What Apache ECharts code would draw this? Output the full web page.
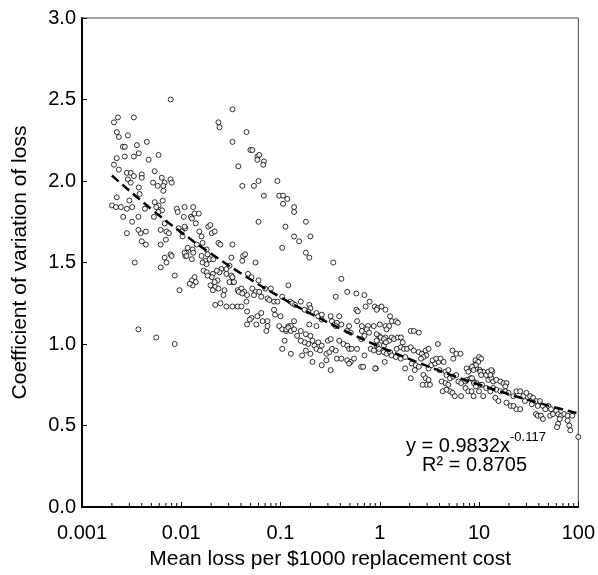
<!DOCTYPE html>
<html><head><meta charset="utf-8">
<script src="https://cdn.jsdelivr.net/npm/echarts@6/dist/echarts.min.js"></script>
<style>html,body{margin:0;padding:0;background:#fff}#c{width:598px;height:575px}</style>
</head><body><div id="c"></div>
<script>
// x tick labels (log axis) and y range
const xTickLabels = ['0.001', '0.01', '0.1', '1', '10', '100'];
const minorMultipliers = [2, 3, 4, 5, 6, 7, 8, 9];

// Mean loss per $1000 replacement cost (x) and coefficient of variation (y)
const meanLoss = [
0.00783,0.0021,0.0023,0.00333,0.00224,0.00235,0.0029,0.00258,0.0027,0.00357,0.0045,0.00224,0.0027,0.00333,0.00373,0.0059,0.0047,0.0021,0.00235,0.00283,
0.0031,0.00333,0.0029,0.004,0.004,0.0054,0.00636,0.0078,0.008,0.0068,0.0066,0.0052,0.0058,0.0031,0.00373,0.0038,0.0066,0.00224,0.003,0.002,
0.0022,0.00246,0.00283,0.0032,0.0054,0.0059,0.0056,0.0064,0.0065,0.0059,0.0043,0.009,0.0092,0.0108,0.0026,0.0037,0.0053,0.0032,0.0068,0.0106,
0.00283,0.0039,0.0037,0.0044,0.0062,0.0071,0.0075,0.007,0.0094,0.0101,0.0103,0.011,0.004,0.0044,0.0062,0.0116,0.011,0.0113,0.0068,0.0078,
0.008,0.0071,0.0062,0.0034,0.0086,0.0096,0.0037,0.0056,0.0086,
0.0328,0.0237,0.0243,0.0454,0.0328,0.0497,0.052,0.0585,0.061,0.0585,0.068,0.067,0.0376,0.060,0.093,0.0412,0.054,0.068,0.097,0.106,
0.117,0.106,0.0132,0.0125,0.0136,0.015,0.0128,0.014,0.0108,0.0187,0.0196,0.060,0.112,
0.0203,0.0217,0.0152,0.016,0.0164,0.0237,0.0248,0.0328,0.0143,0.013,0.0108,0.0113,0.0132,0.0128,0.018,0.0184,0.016,0.0175,0.0164,0.018,
0.0193,0.021,0.032,0.042,0.044,0.0412,0.056,0.104,0.0254,0.0243,0.0228,0.0208,0.0203,0.0232,0.0217,0.0285,0.0306,0.0285,0.0168,0.018,
0.0184,0.032,0.0328,0.0328,0.0306,0.034,0.047,0.051,0.060,0.0136,0.0128,0.014,0.013,0.0122,0.0197,0.022,0.0237,0.0208,0.0273,0.0266,
0.037,0.0404,0.038,0.043,0.0412,0.046,0.052,0.056,0.054,0.061,0.064,0.070,0.080,0.074,0.077,0.086,0.093,0.086,0.088,0.022,
0.0248,0.0285,0.0328,0.037,0.0404,0.0454,0.046,0.051,0.0585,0.064,0.066,0.074,0.074,0.072,0.057,0.049,0.046,0.097,0.104,0.114,0.12,
0.137,0.137,0.18,0.137,0.154,0.20,0.18,0.195,0.34,0.41,0.12,0.36,0.47,0.58,0.70,0.104,0.125,0.132,0.14,0.16,
0.195,0.20,0.19,0.175,0.23,0.24,0.26,0.26,0.32,0.33,0.35,0.39,0.37,0.58,0.60,0.72,0.79,0.89,0.95,1.04,
1.14,0.59,0.66,0.76,0.87,1.0,1.14,0.10,0.127,0.137,0.195,0.23,0.36,0.41,0.49,
0.47,0.51,0.74,0.78,0.66,0.70,0.65,0.98,1.04,1.1,0.93,1.14,0.114,0.12,0.127,0.137,0.11,0.104,0.127,0.147,
0.16,0.18,0.20,0.21,0.19,0.175,0.16,0.22,0.24,0.26,0.23,0.25,0.29,0.31,0.33,0.36,0.30,0.32,0.39,0.43,
0.47,0.49,0.52,0.59,0.18,0.20,0.165,0.37,0.41,0.47,0.51,0.55,0.49,0.21,0.26,0.32,0.65,0.68,0.91,0.70,
0.81,0.98,0.29,
0.93,1.27,1.32,1.45,1.52,1.24,1.17,2.05,2.2,2.47,0.93,1.02,1.1,1.24,1.15,1.32,1.39,1.52,1.63,1.7,
0.93,0.98,0.87,1.1,1.17,1.27,1.32,1.48,1.63,1.75,1.88,2.05,2.2,1.45,1.63,1.8,2.47,2.65,2.9,3.1,
2.95,2.75,2.6,0.9,1.12,1.8,2.1,2.3,2.47,2.25,2.05,2.75,2.9,3.1,2.95,3.2,2.7,3.1,3.3,3.6,
3.9,3.4,3.7,4.1,4.4,3.85,5.4,5.9,6.5,5.5,4.0,4.6,4.9,4.7,5.1,5.5,5.9,4.2,4.6,4.9,
5.1,4.3,4.7,5.4,5.7,6.6,6.2,6.6,7.3,7.5,8.2,8.8,9.4,10.2,7.5,8.4,9.2,9.4,10.2,11,
7.3,7.8,8.4,8.8,10,11,9.2,10,10.5,
9.8,9.3,8.5,8.8,10.3,7.8,10.5,8.5,8.9,9.3,11.8,12.4,13.3,13.6,13.9,14.9,16.4,17.6,18.9,18.4,
10.7,11.8,13,13.9,14.9,16.4,18.4,14.6,15.7,18.9,20.8,22.2,23.8,26,19.8,22.2,23.8,26,28,30,
32.7,35,37.5,41,29,34,39,44,50,46.5,53,37.5,39,42,44,52,55.5,60,62.5,67,
72,78,62.5,65,61,78,81,83,87,100,12.4,13.3,13
];
const cvLoss = [
2.50,2.36,2.39,2.39,2.30,2.27,2.28,2.21,2.21,2.22,2.24,2.14,2.15,2.15,2.17,2.16,2.13,2.10,2.07,2.05,
2.05,2.03,2.01,2.04,2.02,2.06,2.02,2.01,1.99,1.99,1.97,1.99,1.97,1.99,1.96,1.92,1.94,1.90,1.88,1.85,
1.84,1.84,1.83,1.84,1.87,1.85,1.84,1.82,1.88,1.81,1.83,1.83,1.81,1.84,1.78,1.78,1.78,1.75,1.74,1.78,
1.68,1.68,1.70,1.69,1.70,1.69,1.68,1.64,1.71,1.69,1.66,1.71,1.63,1.61,1.61,1.59,1.54,1.56,1.53,1.55,
1.54,1.50,1.47,1.50,1.42,1.33,1.09,1.04,1.00,
2.44,2.36,2.33,2.30,2.24,2.19,2.19,2.15,2.16,2.13,2.12,2.10,2.09,2.00,2.00,1.97,1.97,1.91,1.91,1.91,
1.89,1.86,1.84,1.78,1.80,1.80,1.77,1.74,1.72,1.72,1.73,1.75,1.72,
1.68,1.69,1.69,1.66,1.62,1.62,1.61,1.61,1.61,1.58,1.56,1.54,1.56,1.52,1.58,1.55,1.54,1.51,1.50,1.49,
1.52,1.52,1.53,1.54,1.55,1.51,1.50,1.59,1.46,1.44,1.45,1.43,1.41,1.39,1.38,1.46,1.48,1.43,1.45,1.44,
1.42,1.42,1.41,1.38,1.38,1.38,1.43,1.41,1.39,1.41,1.39,1.38,1.36,1.37,1.36,1.35,1.34,1.33,1.33,1.30,
1.33,1.34,1.32,1.32,1.31,1.30,1.34,1.32,1.30,1.32,1.29,1.34,1.34,1.28,1.27,1.26,1.26,1.21,1.18,1.24,
1.25,1.23,1.23,1.23,1.23,1.26,1.20,1.16,1.17,1.19,1.14,1.14,1.11,1.08,1.12,1.15,1.12,1.11,1.09,1.08,1.11,
1.84,1.81,1.75,1.66,1.63,1.66,1.56,1.53,1.50,1.40,1.36,1.29,1.32,1.31,1.30,1.29,1.26,1.25,1.24,1.26,
1.24,1.22,1.20,1.21,1.19,1.17,1.18,1.15,1.17,1.14,1.12,1.17,1.13,1.21,1.20,1.23,1.26,1.23,1.22,1.23,
1.21,1.14,1.11,1.11,1.11,1.12,1.11,1.17,1.11,1.14,1.12,1.11,1.11,1.12,1.11,
1.08,1.07,1.09,1.07,1.08,1.05,1.03,1.05,1.02,0.99,1.02,1.04,1.09,1.10,1.08,1.09,1.02,0.97,0.94,1.05,
1.08,1.06,1.05,1.02,1.00,1.01,1.02,0.99,1.01,0.99,0.97,0.96,0.94,0.95,0.97,0.96,1.02,1.03,1.02,1.00,
0.99,0.97,0.97,0.97,0.96,0.94,0.93,0.91,0.91,0.90,0.89,0.91,0.88,0.89,0.87,0.84,0.86,0.86,0.85,0.93,
0.97,0.95,0.90,
1.21,1.17,1.14,1.14,1.13,1.11,1.09,1.08,1.08,1.07,1.06,1.04,1.03,1.02,1.01,1.04,1.03,1.04,1.04,1.01,
0.99,0.97,0.96,0.95,0.94,0.95,0.93,0.97,0.98,0.97,0.97,0.98,0.96,0.92,0.91,0.92,0.95,0.94,0.96,0.97,
0.93,0.92,0.91,0.85,0.89,0.85,0.88,0.87,0.86,0.84,0.79,0.81,0.79,0.78,0.75,0.75,0.75,0.85,0.87,0.88,
0.89,0.90,0.91,0.91,0.89,1.00,0.96,0.94,0.94,0.91,0.84,0.83,0.84,0.81,0.79,0.80,0.81,0.77,0.76,0.75,
0.71,0.71,0.72,0.70,0.68,0.68,0.77,0.76,0.77,0.78,0.79,0.77,0.76,0.75,0.85,0.85,0.88,0.85,0.84,0.83,
0.73,0.71,0.71,0.68,0.71,0.68,0.90,0.92,0.91,
0.89,0.87,0.86,0.84,0.83,0.83,0.81,0.79,0.76,0.74,0.81,0.78,0.79,0.83,0.77,0.78,0.77,0.76,0.76,0.74,
0.75,0.73,0.71,0.73,0.72,0.71,0.71,0.67,0.65,0.64,0.62,0.62,0.60,0.60,0.70,0.68,0.71,0.71,0.68,0.70,
0.68,0.67,0.65,0.65,0.65,0.63,0.62,0.62,0.62,0.60,0.60,0.57,0.56,0.56,0.54,0.56,0.57,0.59,0.57,0.56,
0.57,0.56,0.51,0.54,0.49,0.53,0.50,0.47,0.56,0.43,0.83,0.84,0.81
];

// Power trendline y = 0.9832 x^-0.117
const trendX = [0.002, 0.005, 0.01, 0.02, 0.05, 0.1, 0.2, 0.5, 1, 2, 5, 10, 20, 50, 100];
const trendY = [2.034, 1.827, 1.685, 1.554, 1.396, 1.287, 1.187, 1.066, 0.983, 0.907, 0.814, 0.751, 0.692, 0.622, 0.574];

const FONT = "'Liberation Sans', Arial, sans-serif";
const scatterData = meanLoss.map((x, i) => [x, cvLoss[i]]);
const trendData = trendX.map((x, i) => [x, trendY[i]]);

const chart = echarts.init(document.getElementById('c'), null, {renderer: 'canvas'});
chart.setOption({
  animation: false,
  backgroundColor: '#fff',
  grid: {left: 82, right: 18, top: 18, bottom: 66, show: true, borderColor: '#444', borderWidth: 1, containLabel: false},
  xAxis: {
    type: 'log', logBase: 10, min: 0.001, max: 100,
    name: 'Mean loss per $1000 replacement cost', nameLocation: 'middle', nameGap: 42,
    nameTextStyle: {fontFamily: FONT, fontSize: 21, color: '#000'},
    axisLine: {show: true, onZero: false, lineStyle: {color: '#000', width: 2}},
    axisTick: {show: true, inside: true, length: 5, lineStyle: {color: '#000', width: 1}},
    axisLabel: {fontFamily: FONT, fontSize: 20, color: '#000', margin: 16,
      formatter: v => xTickLabels[Math.round(Math.log10(v)) + 3]},
    splitLine: {show: false}
  },
  yAxis: {
    type: 'value', min: 0, max: 3, interval: 0.5,
    name: 'Coefficient of variation of loss', nameLocation: 'middle', nameGap: 51,
    nameTextStyle: {fontFamily: FONT, fontSize: 21, color: '#000'},
    axisLine: {show: true, lineStyle: {color: '#000', width: 2}},
    axisTick: {show: true, inside: true, length: 5, lineStyle: {color: '#000', width: 1}},
    axisLabel: {fontFamily: FONT, fontSize: 20, color: '#000', margin: 6, formatter: v => v.toFixed(1)},
    splitLine: {show: false}
  },
  series: [
    {type: 'scatter', data: scatterData, symbol: 'circle', symbolSize: 5,
     itemStyle: {color: '#fff', borderColor: '#000', borderWidth: 1}, z: 2},
    {type: 'line', data: trendData, smooth: true, showSymbol: false, symbol: 'none',
     lineStyle: {color: '#000', width: 2.5, type: [9, 5]}, z: 3}
  ]
});

// minor ticks on the log axis
const y0 = chart.convertToPixel({yAxisIndex: 0}, 0);
const g = [];
for (let d = -3; d <= 1; d++) {
  for (const m of minorMultipliers) {
    const px = chart.convertToPixel({xAxisIndex: 0}, m * Math.pow(10, d));
    g.push({type: 'line', shape: {x1: px, y1: y0, x2: px, y2: y0 - 4}, style: {stroke: '#000', lineWidth: 1}, silent: true});
  }
}
g.push({type: 'text', left: 406, top: 431, silent: true,
  style: {text: '{a|y = 0.9832x}{b|-0.117}', rich: {
    a: {fontFamily: FONT, fontSize: 20, fill: '#000', lineHeight: 25, verticalAlign: 'bottom'},
    b: {fontFamily: FONT, fontSize: 13, fill: '#000', lineHeight: 25, verticalAlign: 'top', padding: [0, 0, 6, 0]}
  }}});
g.push({type: 'text', left: 422, top: 455, silent: true,
  style: {text: 'R² = 0.8705', fontFamily: FONT, fontSize: 20, fill: '#000'}});
chart.setOption({graphic: g});
</script>
</body></html>
